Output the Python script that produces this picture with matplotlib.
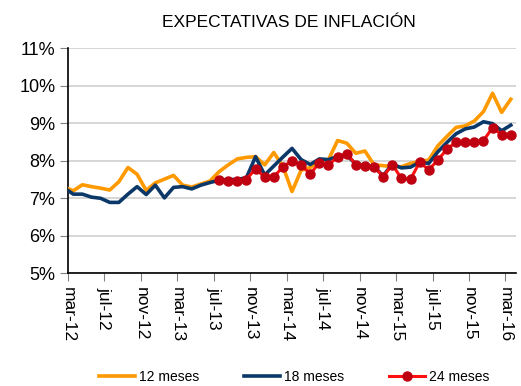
import matplotlib
matplotlib.use("Agg")
import matplotlib.pyplot as plt

plt.rcParams['font.family'] = ['Liberation Sans', 'DejaVu Sans']

# monthly survey, feb-12 .. mar-16 (first month sits just outside the axis)
months = ['feb-12', 'mar-12', 'abr-12', 'may-12', 'jun-12', 'jul-12', 'ago-12', 'sep-12',
          'oct-12', 'nov-12', 'dic-12', 'ene-13', 'feb-13', 'mar-13', 'abr-13', 'may-13',
          'jun-13', 'jul-13', 'ago-13', 'sep-13', 'oct-13', 'nov-13', 'dic-13', 'ene-14',
          'feb-14', 'mar-14', 'abr-14', 'may-14', 'jun-14', 'jul-14', 'ago-14', 'sep-14',
          'oct-14', 'nov-14', 'dic-14', 'ene-15', 'feb-15', 'mar-15', 'abr-15', 'may-15',
          'jun-15', 'jul-15', 'ago-15', 'sep-15', 'oct-15', 'nov-15', 'dic-15', 'ene-16',
          'feb-16', 'mar-16']

exp_12 = [7.30, 7.20, 7.36, 7.31, 7.27, 7.22, 7.44, 7.82, 7.64, 7.21,
          7.41, 7.51, 7.61, 7.35, 7.30, 7.38, 7.46, 7.71, 7.89, 8.05,
          8.09, 8.11, 7.89, 8.22, 7.85, 7.18, 7.75, 7.82, 8.01, 8.03,
          8.54, 8.47, 8.20, 8.26, 7.89, 7.87, 7.84, 7.84, 7.93, 7.98,
          8.02, 8.40, 8.65, 8.89, 8.93, 9.06, 9.31, 9.80, 9.29, 9.64]

exp_18 = [7.28, 7.11, 7.11, 7.03, 7.00, 6.89, 6.89, 7.11, 7.31, 7.10,
          7.35, 7.01, 7.29, 7.31, 7.25, 7.35, 7.42, 7.48, 7.50, 7.50,
          7.55, 8.11, 7.62, 7.86, 8.10, 8.33, 8.03, 7.90, 8.05, 8.03,
          8.12, 8.15, 7.91, 7.86, 7.84, 7.60, 7.91, 7.81, 7.83, 7.96,
          7.93, 8.24, 8.49, 8.72, 8.85, 8.90, 9.04, 8.99, 8.80, 8.95]

# 24-month series starts in jul-13
exp_24 = [7.49, 7.47, 7.47, 7.50, 7.79, 7.56, 7.57, 7.84, 8.00, 7.88,
          7.65, 7.95, 7.88, 8.11, 8.19, 7.90, 7.85, 7.84, 7.58, 7.90,
          7.53, 7.51, 7.96, 7.76, 8.02, 8.31, 8.50, 8.50, 8.50, 8.54,
          8.88, 8.70, 8.70]

tick_labels = ['mar-12', 'jul-12', 'nov-12', 'mar-13', 'jul-13', 'nov-13', 'mar-14',
               'jul-14', 'nov-14', 'mar-15', 'jul-15', 'nov-15', 'mar-16']

x_all = [i - 1 for i in range(len(months))]
x_24 = x_all[len(months) - len(exp_24):]

fig = plt.figure(figsize=(5.21, 3.86), dpi=100)
ax = fig.add_axes([0.1305, 0.292, 0.8595, 0.583])

ax.plot(x_all, exp_12, color='#FF9900', lw=2.6, label='12 meses', zorder=3)
ax.plot(x_all, exp_18, color='#0B3868', lw=2.6, label='18 meses', zorder=4)
ax.plot(x_24, exp_24, color='#FF1010', lw=2.2, marker='o', ms=6.5,
        mfc='#BE0010', mec='#BE0010', label='24 meses', zorder=5)

ax.set_xlim(-0.58, 48.55)
ax.set_ylim(5, 11)
ax.set_yticks(range(5, 12))
ax.set_yticklabels([f'{v}%' for v in range(5, 12)], fontsize=13)
ax.set_xticks([4 * k - 0.58 for k in range(len(tick_labels))])
ax.set_xticklabels(tick_labels, rotation=-90, fontsize=12.5, va='top', ha='center')

ax.grid(axis='y', color='#D0D0D0', lw=1.2)
ax.set_axisbelow(True)
for side in ('top', 'right'):
    ax.spines[side].set_visible(False)
for side in ('left', 'bottom'):
    ax.spines[side].set_color('black')
    ax.spines[side].set_linewidth(1.2)
ax.tick_params(axis='y', length=6, color='#808080', pad=3)
ax.tick_params(axis='x', length=6, color='#808080', pad=4)

fig.text(0.555, 0.943, 'EXPECTATIVAS DE INFLACIÓN', ha='center', va='center', fontsize=12.5)

fig.legend(loc='center', bbox_to_anchor=(0.565, 0.024), ncol=3, frameon=False,
           fontsize=10, handlelength=2.6, columnspacing=3.2, handletextpad=0.3,
           borderpad=0)

fig.savefig('out.png', dpi=100)
